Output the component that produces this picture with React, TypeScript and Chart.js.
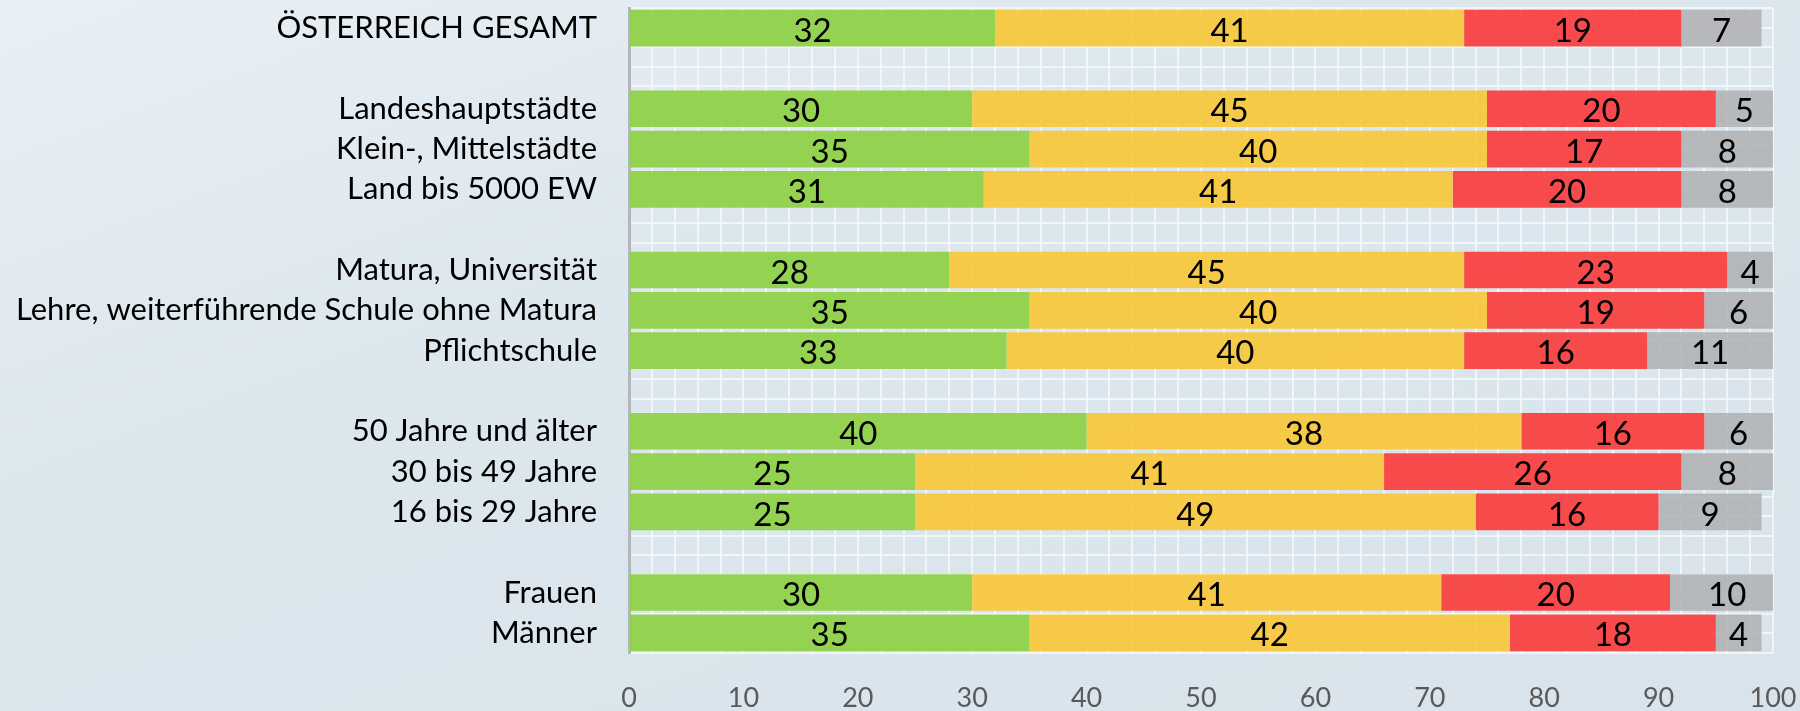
import React, { useEffect, useRef } from "react";
import { Chart, registerables } from "chart.js";

Chart.register(...registerables);

const categories: string[] = [
  "ÖSTERREICH GESAMT",
  "",
  "Landeshauptstädte",
  "Klein-, Mittelstädte",
  "Land bis 5000 EW",
  "",
  "Matura, Universität",
  "Lehre, weiterführende Schule ohne Matura",
  "Pflichtschule",
  "",
  "50 Jahre und älter",
  "30 bis 49 Jahre",
  "16 bis 29 Jahre",
  "",
  "Frauen",
  "Männer",
];

const greenValues: (number | null)[] = [32, null, 30, 35, 31, null, 28, 35, 33, null, 40, 25, 25, null, 30, 35];
const yellowValues: (number | null)[] = [41, null, 45, 40, 41, null, 45, 40, 40, null, 38, 41, 49, null, 41, 42];
const redValues: (number | null)[] = [19, null, 20, 17, 20, null, 23, 19, 16, null, 16, 26, 16, null, 20, 18];
const greyValues: (number | null)[] = [7, null, 5, 8, 8, null, 4, 6, 11, null, 6, 8, 9, null, 10, 4];

const xTickLabels: number[] = [0, 10, 20, 30, 40, 50, 60, 70, 80, 90, 100];

const FONT = "Lato, 'Open Sans', sans-serif";

const dataLabelPlugin = {
  id: "segmentLabels",
  afterDatasetsDraw(chart: any) {
    const ctx = chart.ctx;
    ctx.save();
    ctx.font = `33px ${FONT}`;
    ctx.fillStyle = "#000000";
    ctx.textAlign = "center";
    ctx.textBaseline = "middle";
    chart.data.datasets.forEach((ds: any, di: number) => {
      const meta = chart.getDatasetMeta(di);
      meta.data.forEach((bar: any, i: number) => {
        const v = ds.data[i];
        if (v === null || v === undefined) return;
        const p = bar.getProps(["x", "y", "base"], true);
        const cx = (p.x + p.base) / 2;
        ctx.fillText(String(v), cx, p.y + 3);
      });
    });
    ctx.restore();
  },
};

export default function App() {
  const ref = useRef<HTMLCanvasElement | null>(null);

  useEffect(() => {
    if (!ref.current) return;
    const chart = new Chart(ref.current, {
      type: "bar",
      data: {
        labels: categories,
        datasets: [
          { label: "grün", data: greenValues, backgroundColor: "rgba(140,207,64,0.9)" },
          { label: "gelb", data: yellowValues, backgroundColor: "rgba(248,199,54,0.9)" },
          { label: "rot", data: redValues, backgroundColor: "rgba(249,56,58,0.9)" },
          { label: "grau", data: greyValues, backgroundColor: "rgba(178,180,182,0.92)" },
        ],
      },
      options: {
        indexAxis: "y",
        responsive: false,
        animation: false,
        layout: { padding: { top: 8, right: 27, left: 0, bottom: 0 } },
        datasets: {
          bar: { barPercentage: 0.91, categoryPercentage: 1, borderWidth: 0 },
        },
        plugins: {
          legend: { display: false },
          tooltip: { enabled: false },
        },
        scales: {
          x: {
            type: "linear",
            stacked: true,
            min: 0,
            max: 100,
            position: "bottom",
            border: { display: false },
            grid: { color: "rgba(246,248,250,0.85)", lineWidth: 2, drawTicks: false },
            ticks: {
              stepSize: 2,
              autoSkip: false,
              maxRotation: 0,
              padding: 29,
              color: "#5a5a5a",
              font: { family: FONT, size: 27 },
              callback: (v: any) => (xTickLabels.includes(Number(v)) ? String(v) : ""),
            },
            afterFit: (s: any) => {
              s.height = 58;
              s.paddingLeft = 0;
              s.paddingRight = 0;
            },
          },
          y: {
            type: "category",
            stacked: true,
            position: "left",
            offset: true,
            border: { display: true, color: "#b3b7bb", width: 3 },
            grid: { display: false, drawTicks: false },
            ticks: {
              padding: 32,
              color: "#000000",
              font: { family: FONT, size: 31 },
              autoSkip: false,
            },
            afterFit: (s: any) => {
              s.width = 629;
              s.paddingTop = 0;
              s.paddingBottom = 0;
            },
          },
          yg: {
            type: "linear",
            position: "right",
            reverse: true,
            min: -0.5,
            max: categories.length - 0.5,
            border: { display: false },
            grid: { color: "rgba(246,248,250,0.85)", lineWidth: 2, drawTicks: false },
            ticks: { display: false, stepSize: 0.5 },
            afterFit: (s: any) => {
              s.width = 0;
              s.paddingTop = 0;
              s.paddingBottom = 0;
            },
          },
        },
      },
      plugins: [dataLabelPlugin],
    } as any);
    return () => chart.destroy();
  }, []);

  return (
    <div
      style={{
        position: "fixed",
        left: 0,
        top: 0,
        width: 1800,
        height: 711,
        background: "linear-gradient(160deg, #e8f0f5 0%, #dde7ee 35%, #d9e3eb 100%)",
      }}
    >
      <canvas ref={ref} width={1800} height={711} style={{ display: "block" }} />
    </div>
  );
}
